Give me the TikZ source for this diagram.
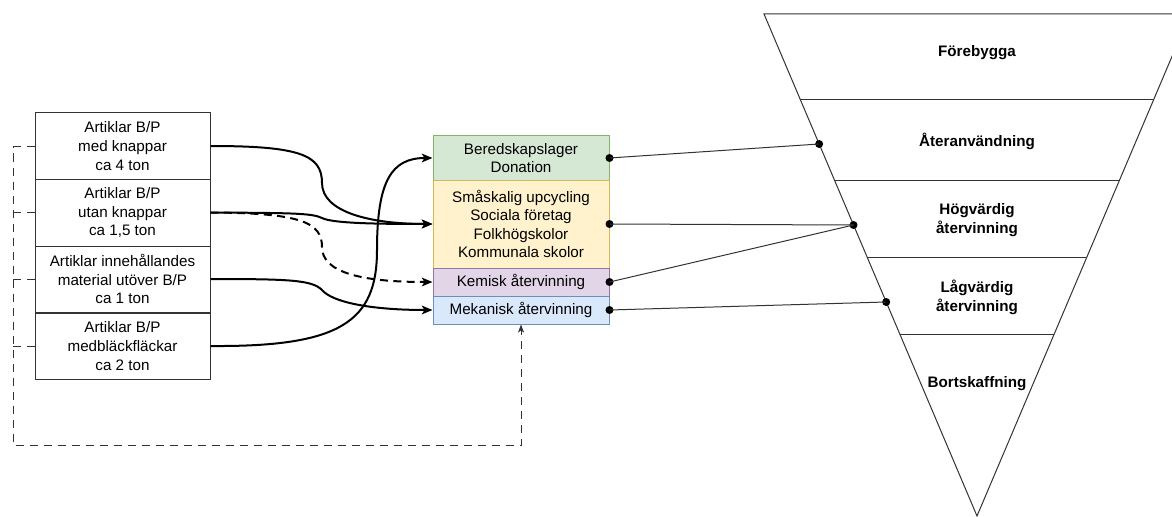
\documentclass[tikz,border=0pt]{standalone}
\usepackage{fontspec}
\setmainfont{Liberation Sans}
\usetikzlibrary{arrows.meta,calc}

\definecolor{grnF}{HTML}{D5E8D4}\definecolor{grnD}{HTML}{82B366}
\definecolor{yelF}{HTML}{FFF2CC}\definecolor{yelD}{HTML}{D6B656}
\definecolor{purF}{HTML}{E1D5E7}\definecolor{purD}{HTML}{9673A6}
\definecolor{bluF}{HTML}{DAE8FC}\definecolor{bluD}{HTML}{6C8EBF}
\definecolor{edge}{HTML}{333333}

\tikzset{
  src/.style={draw=edge, line width=0.75pt, fill=white, minimum width=131.25pt,
    minimum height=49.5pt, inner sep=0pt, align=center,
    font=\fontsize{11.4}{14.2}\selectfont},
  dest/.style={line width=0.75pt, minimum width=132pt, inner sep=0pt, align=center,
    font=\fontsize{11.4}{13.8}\selectfont},
  level/.style={align=center, font=\bfseries\fontsize{11.4}{14.2}\selectfont},
  flow/.style={line width=1.5pt, -{Stealth[length=8pt,width=6.5pt,inset=2pt]}},
  flowdash/.style={flow, dash pattern=on 6pt off 4pt},
  feed/.style={draw=edge, line width=0.75pt, dash pattern=on 6pt off 4.5pt},
  link/.style={draw=edge, line width=0.75pt},
  dot/.style={circle, fill=black, inner sep=0pt, minimum size=6pt},
}

\begin{document}
\begin{tikzpicture}[x=0.75pt, y=-0.75pt]
\useasboundingbox (0,0) rectangle (1172,517);
\clip (0,0) rectangle (1172,517);

% source article groups
\node[src] (b1) at (122.5,146)   {Artiklar B/P\\med knappar\\ca 4 ton};
\node[src, minimum height=50.25pt] (b2) at (122.5,212.5) {Artiklar B/P\\utan knappar\\ca 1,5 ton};
\node[src] (b3) at (122.5,279)   {Artiklar innehållandes\\material utöver B/P\\ca 1 ton};
\node[src] (b4) at (122.5,346)   {Artiklar B/P\\medbläckfläckar\\ca 2 ton};

% destinations
\node[dest, fill=grnF, draw=grnD, minimum height=33pt] (grn) at (521,158) {Beredskapslager\\Donation};
\node[dest, fill=yelF, draw=yelD, minimum height=66pt] (yel) at (521,224) {Småskalig upcycling\\Sociala företag\\Folkhögskolor\\Kommunala skolor};
\node[dest, fill=purF, draw=purD, minimum height=21pt] (pur) at (521,282) {Kemisk återvinning};
\node[dest, fill=bluF, draw=bluD, minimum height=21pt] (blu) at (521,310) {Mekanisk återvinning};

% flows from sources to destinations
\draw[flow] (b1.east) .. controls (300,146) and (322,155) .. (322,183)
                      .. controls (322,212) and (370,224) .. (yel.west);
\draw[flow] (b2.east) .. controls (290,213) and (312,213) .. (322,218)
                      .. controls (332,223) and (370,224) .. (yel.west);
\draw[flowdash] (b2.east) .. controls (300,213) and (322,222) .. (322,247)
                      .. controls (322,272) and (360,282) .. (pur.west);
\draw[flow] (b3.east) .. controls (290,279) and (312,280) .. (322,290)
                      .. controls (332,302) and (370,310) .. (blu.west);
\draw[flow] (b4.east) .. controls (340,347) and (377,322) .. (377,250)
                      .. controls (377,180) and (392,158) .. (grn.west);

% residual feedback to mechanical recycling
\coordinate (trunkTop) at (13,147);
\coordinate (trunkBot) at (13,445);
\coordinate (trunkEnd) at (521,445);
\draw[feed, -{Stealth[length=6pt,width=4.5pt,inset=1.5pt]}]
  (b1.west) ++(0,1) -- (trunkTop) -- (trunkBot) -- (trunkEnd) -- (blu.south);
\draw[feed] (b2.west) -- (b2.west -| trunkTop);
\draw[feed] (b3.west) -- (b3.west -| trunkTop);
\draw[feed] (b4.west) -- (b4.west -| trunkTop);

% waste hierarchy
\coordinate (tl) at (764,14);
\coordinate (tr) at (1190,14);
\coordinate (apex) at (977,516);
\draw[link] (tl) -- (tr) -- (apex) -- cycle;
\foreach \yy in {100,181,258,335}{
  \draw[link] ($(tl)!{(\yy-14)/502}!(apex)$) -- ($(tr)!{(\yy-14)/502}!(apex)$);
}
\node[level] (l1) at (977,53)  {Förebygga};
\node[level] (l2) at (977,141) {Återanvändning};
\node[level] (l3) at (977,220) {Högvärdig\\återvinning};
\node[level] (l4) at (977,297) {Lågvärdig\\återvinning};
\node[level] (l5) at (977,384) {Bortskaffning};

\node[dot] (p2) at ($(tl)!{(144-14)/502}!(apex)$) {};
\node[dot] (p3) at ($(tl)!{(225-14)/502}!(apex)$) {};
\node[dot] (p4) at ($(tl)!{(302-14)/502}!(apex)$) {};

% links from destinations to hierarchy levels
\node[dot] (g1) at (grn.east) {};
\node[dot] (y1) at (yel.east) {};
\node[dot] (k1) at (pur.east) {};
\node[dot] (m1) at (blu.east) {};
\draw[link] (g1.center) -- (p2.center);
\draw[link] (y1.center) -- (p3.center);
\draw[link] (k1.center) -- (p3.center);
\draw[link] (m1.center) -- (p4.center);
\end{tikzpicture}
\end{document}
